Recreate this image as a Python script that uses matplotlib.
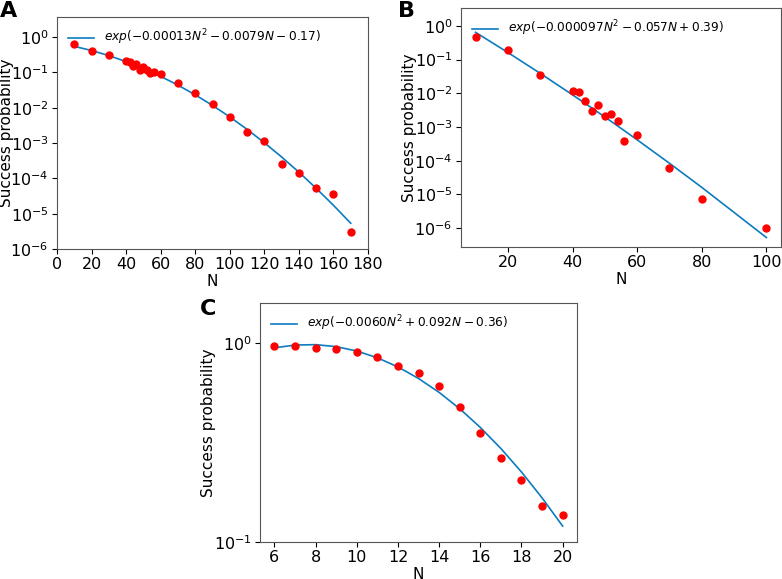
import numpy as np
import matplotlib
matplotlib.use("Agg")
import matplotlib.pyplot as plt

# panel A
n_a = [10, 20, 30, 40, 42, 44, 46, 48, 50, 52, 54, 56, 60, 70, 80, 90, 100,
       110, 120, 130, 140, 150, 160, 170]
p_a = [0.63, 0.41, 0.31, 0.21, 0.20, 0.155, 0.17, 0.117, 0.14, 0.12, 0.096, 0.10,
       0.088, 0.050, 0.026, 0.013, 0.0053, 0.0020, 0.00114, 0.00026, 0.000139,
       5.2e-5, 3.6e-5, 3.0e-6]
fit_a = [-0.00013, -0.0079, -0.17]

# panel B
n_b = [10, 20, 30, 40, 42, 44, 46, 48, 50, 52, 54, 56, 60, 70, 80, 100]
p_b = [0.48, 0.19, 0.036, 0.0119, 0.0106, 0.0059, 0.0030, 0.0044, 0.0021, 0.0024,
       0.00155, 0.00039, 0.00059, 6.1e-5, 7.1e-6, 1.0e-6]
fit_b = [-0.000097, -0.057, 0.39]

# panel C
n_c = [6, 7, 8, 9, 10, 11, 12, 13, 14, 15, 16, 17, 18, 19, 20]
p_c = [0.97, 0.966, 0.947, 0.936, 0.90, 0.85, 0.77, 0.71, 0.61, 0.477, 0.353,
       0.264, 0.204, 0.152, 0.136]
fit_c = [-0.0060, 0.092, -0.36]

labels = [r"$exp(-0.00013N^2-0.0079N-0.17)$",
          r"$exp(-0.000097N^2-0.057N+0.39)$",
          r"$exp(-0.0060N^2+0.092N-0.36)$"]

line_color = "#0c7bbf"
fs = 11

fig = plt.figure(figsize=(7.82, 5.79), dpi=100)
ax_a = fig.add_axes([0.0729, 0.5699, 0.3977, 0.4007])
ax_b = fig.add_axes([0.5895, 0.5734, 0.4092, 0.4128])
ax_c = fig.add_axes([0.3325, 0.0639, 0.4054, 0.4128])

panels = [(ax_a, n_a, p_a, fit_a, labels[0], "A"),
          (ax_b, n_b, p_b, fit_b, labels[1], "B"),
          (ax_c, n_c, p_c, fit_c, labels[2], "C")]

for ax, n, p, fit, lab, letter in panels:
    n = np.array(n)
    ax.plot(n, 10 ** np.polyval(fit, n), color=line_color, lw=1.2, label=lab)
    ax.plot(n, p, "o", color="red", markersize=5)
    ax.set_yscale("log")
    ax.set_xlabel("N", fontsize=fs, labelpad=1)
    ax.set_ylabel("Success probability", fontsize=fs)
    ax.yaxis.set_label_coords(-0.138, 0.5)
    ax.tick_params(labelsize=11.5, pad=2.5)
    ax.minorticks_off()
    ax.legend(loc="upper left", frameon=False, fontsize=8.7, handlelength=2.2)
    for s in ax.spines.values():
        s.set_color("#555555")

ax_a.set_xlim(0, 180)
ax_a.set_xticks(range(0, 181, 20))
ax_a.set_ylim(1e-6, 3.7)
ax_a.set_yticks([1e0, 1e-1, 1e-2, 1e-3, 1e-4, 1e-5, 1e-6])

ax_b.set_ylim(10 ** -6.56, 3.4)
ax_b.set_yticks([1e0, 1e-1, 1e-2, 1e-3, 1e-4, 1e-5, 1e-6])
ax_b.set_xticks([20, 40, 60, 80, 100])

ax_c.set_ylim(0.1, 1.59)
ax_c.set_yticks([1e0, 1e-1])
ax_c.set_xticks([6, 8, 10, 12, 14, 16, 18, 20])

fig.text(0.0, 0.999, "A", fontsize=16, fontweight="bold", va="top", ha="left")
fig.text(0.509, 0.999, "B", fontsize=16, fontweight="bold", va="top", ha="left")
fig.text(0.256, 0.484, "C", fontsize=16, fontweight="bold", va="top", ha="left")

fig.savefig("out.png", dpi=100)
